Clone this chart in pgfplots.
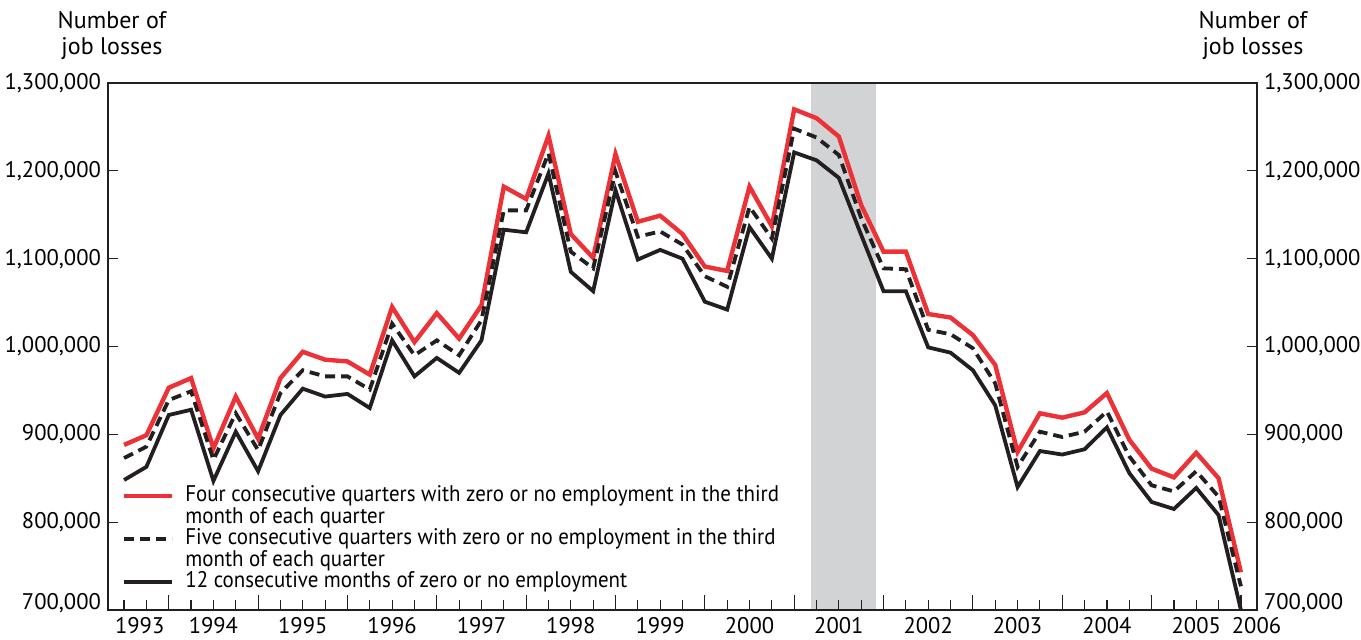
\documentclass[border=0pt]{standalone}
\usepackage{fontspec}
\setmainfont{PT Sans}
\newfontfamily\legfont{PT Sans}[FakeStretch=0.925]
\usepackage{pgfplots}
\usepackage{pgfplotstable}
\pgfplotsset{compat=1.18}
\definecolor{myred}{RGB}{237,50,55}
\definecolor{myblack}{RGB}{35,31,32}
\definecolor{recess}{RGB}{209,211,212}

\pgfplotstableread{
x four five twelve
0 888000 873000 848000
1 899000 886000 863000
2 953000 939000 922000
3 964000 949000 928000
4 884000 871000 847000
5 943000 924000 903000
6 895000 882000 858000
7 964000 947000 922000
8 994000 973000 952000
9 985000 966000 943000
10 983000 966000 946000
11 968000 951000 930000
12 1045000 1026000 1007000
13 1005000 990000 966000
14 1038000 1007000 987000
15 1009000 990000 970000
16 1047000 1030000 1007000
17 1182000 1155000 1133000
18 1168000 1155000 1130000
19 1240000 1220000 1197000
20 1128000 1108000 1085000
21 1101000 1089000 1063000
22 1219000 1199000 1178000
23 1142000 1125000 1099000
24 1149000 1131000 1110000
25 1128000 1116000 1100000
26 1091000 1080000 1051000
27 1086000 1068000 1042000
28 1182000 1159000 1136000
29 1137000 1123000 1100000
30 1270000 1248000 1221000
31 1260000 1238000 1212000
32 1239000 1218000 1192000
33 1161000 1146000 1127000
34 1108000 1089000 1063000
35 1108000 1088000 1063000
36 1037000 1019000 999000
37 1033000 1014000 993000
38 1013000 998000 973000
39 979000 958000 933000
40 880000 863000 840000
41 924000 903000 881000
42 919000 897000 877000
43 925000 903000 883000
44 947000 926000 908000
45 894000 875000 856000
46 861000 842000 823000
47 851000 835000 815000
48 879000 858000 839000
49 850000 829000 808000
50 743000 727000 700000
}\jobdata

\begin{document}
\begin{tikzpicture}
\pgfplotsset{
  common/.style={
    at={(0,0)}, anchor=south west,
    scale only axis, width=574.5pt, height=263.5pt,
    xmin=-0.72, xmax=50.72, ymin=700000, ymax=1300000,
    font=\fontsize{11.3}{13}\selectfont,
    scaled y ticks=false,
    ytick={700000,800000,900000,1000000,1100000,1200000,1300000},
    yticklabels={{\raisebox{9pt}{700,000}},{800,000},{900,000},{1,000,000},{1,100,000},{1,200,000},{1,300,000}},
    major tick length=5pt,
  }
}
\begin{axis}[
  common,
  axis on top,
  axis line style={myblack, line width=0.6pt},
  tick style={myblack, line width=0.6pt},
  ytick pos=both,
  yticklabel pos=left,
  xtick={2,6,10,14,18,22,26,30,34,38,42,46,50},
  xticklabels={},
  minor xtick={0,...,50},
  xtick pos=bottom,
  xtick style={/pgfplots/major tick length=7.5pt, /pgfplots/minor tick length=5pt},
  extra x ticks={0.7,4,8,12,16,20,24,28,32,36,40,44,48,50.7},
  extra x tick labels={1993,1994,1995,1996,1997,1998,1999,2000,2001,2002,2003,2004,2005,2006},
  extra x tick style={/pgfplots/major tick length=0pt, tick style={draw=none}},
  xticklabel style={yshift=0pt},
  legend cell align=left,
  legend image code/.code={\draw[#1] (0pt,0pt) -- (24pt,0pt);},
  legend style={at={(0.0122,0.2362)}, anchor=north west, draw=none, fill=none,
    inner sep=0pt, outer sep=0pt,
    font=\legfont\fontsize{11.3}{13}\selectfont,
    nodes={inner sep=0pt, text height=8pt, text depth=2.75pt},
    /tikz/every odd column/.append style={column sep=5.5pt}},
]
\addplot[fill=recess, draw=none, forget plot] coordinates {(30.76,700000) (33.67,700000) (33.67,1300000) (30.76,1300000)} -- cycle;
\addplot[myred, line width=2.2pt] table[x=x, y=four] {\jobdata};
\addlegendentry{Four consecutive quarters with zero or no employment in the third}
\addlegendimage{empty legend}
\addlegendentry{month of each quarter}
\addplot[myblack, line width=1.9pt, dash pattern=on 5pt off 3pt] table[x=x, y=five] {\jobdata};
\addlegendentry{Five consecutive quarters with zero or no employment in the third}
\addlegendimage{empty legend}
\addlegendentry{month of each quarter}
\addplot[myblack, line width=1.9pt] table[x=x, y=twelve] {\jobdata};
\addlegendentry{12 consecutive months of zero or no employment}
\end{axis}
\begin{axis}[
  common,
  hide x axis,
  axis y line*=right,
  axis line style={draw=none},
  ytick style={draw=none},
  yticklabel pos=right,
]
\end{axis}
\node[align=center, anchor=south, inner sep=0pt, font=\fontsize{12}{13}\selectfont] at (2pt,275pt) {Number of\\job losses};
\node[align=center, anchor=south, inner sep=0pt, font=\fontsize{12}{13}\selectfont] at (572.5pt,275pt) {Number of\\job losses};
\pgfresetboundingbox
\path[use as bounding box] (-54pt,-14.5pt) rectangle (626.5pt,305pt);
\end{tikzpicture}
\end{document}
